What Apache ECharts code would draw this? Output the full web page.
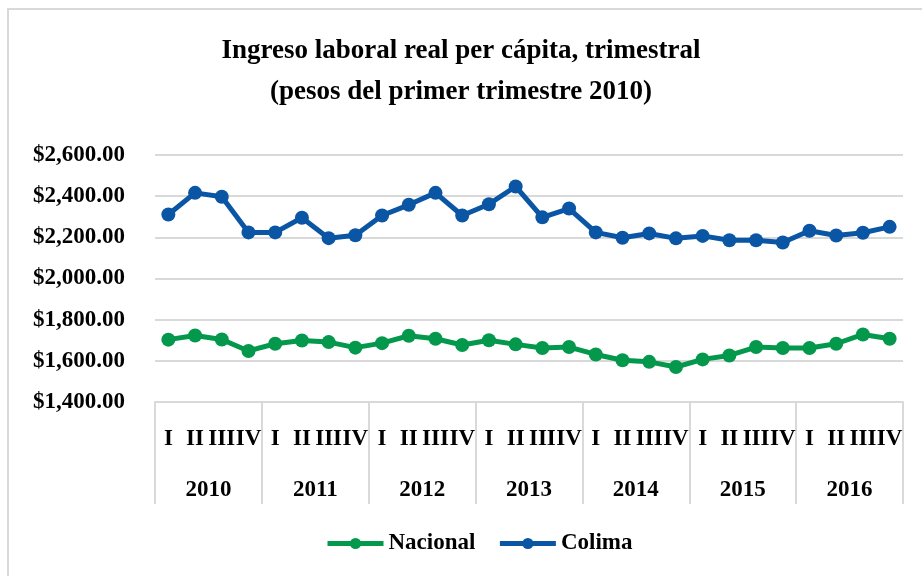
<!DOCTYPE html>
<html>
<head>
<meta charset="utf-8">
<script src="https://cdn.jsdelivr.net/npm/echarts@6/dist/echarts.min.js"></script>
<style>
  html, body { margin: 0; padding: 0; background: #fff; }
  #chart { width: 922px; height: 576px; }
</style>
</head>
<body>
<div id="chart"></div>
<script>
const years = ['2010', '2011', '2012', '2013', '2014', '2015', '2016']
const quarterNames = ['I', 'II', 'III', 'IV']
const quarters = years.flatMap(() => quarterNames)
const nacional = [
  1703, 1723, 1704, 1648, 1683, 1699, 1691, 1664, 1686, 1722, 1707, 1677, 1700, 1680,
  1662, 1667, 1631, 1603, 1595, 1570, 1607, 1626, 1667, 1662, 1662, 1683, 1728, 1707
]
const colima = [
  2311, 2416, 2397, 2224, 2224, 2295, 2196, 2210, 2306, 2358, 2416, 2306, 2361, 2447,
  2297, 2340, 2224, 2198, 2219, 2195, 2207, 2186, 2186, 2175, 2232, 2209, 2222, 2251
]

const font = 'Liberation Serif'
const gray = '#d9d9d9'
const green = '#03984B'
const blue = '#0A56A5'

const chart = echarts.init(document.getElementById('chart'))
const lineSeries = (name, data, color) => ({
  name,
  type: 'line',
  data,
  xAxisIndex: 0,
  symbol: 'circle',
  symbolSize: 14,
  lineStyle: { width: 5, color },
  itemStyle: { color },
  animation: false
})

chart.setOption({
  backgroundColor: '#fff',
  title: {
    text: 'Ingreso laboral real per cápita, trimestral\n(pesos del primer trimestre 2010)',
    left: 'center',
    top: 26,
    textStyle: {
      fontFamily: font,
      fontWeight: 'bold',
      fontSize: 27,
      lineHeight: 41,
      color: '#000'
    }
  },
  legend: {
    bottom: 16,
    left: 320,
    itemWidth: 56,
    itemHeight: 14,
    itemGap: 22,
    lineStyle: { width: 5 },
    textStyle: { fontFamily: font, fontWeight: 'bold', fontSize: 23, color: '#000' },
    data: ['Nacional', 'Colima']
  },
  graphic: [{
    type: 'rect',
    shape: { x: 8, y: 9, width: 1000, height: 1000 },
    style: { fill: 'none', stroke: gray, lineWidth: 2 }
  }],
  grid: { left: 155, right: 19, top: 155, bottom: 174 },
  xAxis: [
    {
      type: 'category',
      data: quarters,
      position: 'bottom',
      axisLine: { lineStyle: { color: gray, width: 2 } },
      axisTick: { show: false },
      axisLabel: {
        interval: 0,
        margin: 26,
        fontFamily: font,
        fontWeight: 'bold',
        fontSize: 23,
        color: '#000'
      }
    },
    {
      type: 'category',
      data: years,
      position: 'bottom',
      axisLine: { show: false },
      axisTick: { show: true, interval: 0, length: 102, lineStyle: { color: gray, width: 2 } },
      axisLabel: {
        interval: 0,
        margin: 77,
        fontFamily: font,
        fontWeight: 'bold',
        fontSize: 23,
        color: '#000'
      }
    }
  ],
  yAxis: {
    type: 'value',
    min: 1400,
    max: 2600,
    interval: 200,
    axisLine: { show: false },
    axisTick: { show: false },
    splitLine: { lineStyle: { color: gray, width: 2 } },
    axisLabel: {
      margin: 30,
      fontFamily: font,
      fontWeight: 'bold',
      fontSize: 23,
      color: '#000',
      formatter: v => '$' + v.toLocaleString('en-US', { minimumFractionDigits: 2, maximumFractionDigits: 2 })
    }
  },
  series: [
    lineSeries('Nacional', nacional, green),
    lineSeries('Colima', colima, blue)
  ]
})
</script>
</body>
</html>
